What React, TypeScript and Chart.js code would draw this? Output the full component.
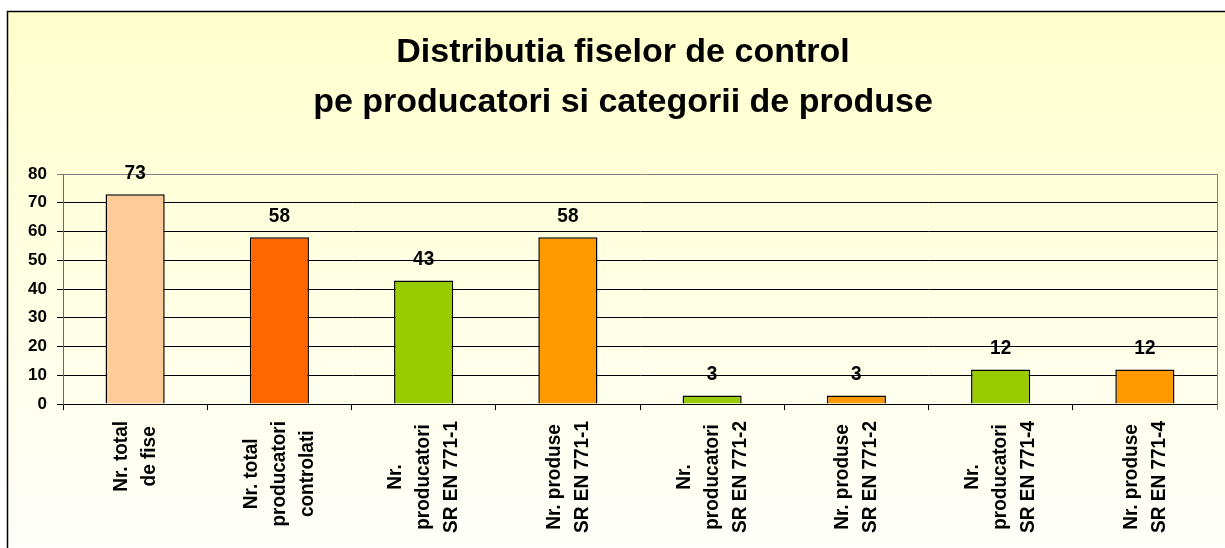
import React, { useEffect, useRef } from 'react';
import { Chart, registerables } from 'chart.js';

Chart.register(...registerables);

const TITLE_LINES = ['Distributia fiselor de control', 'pe producatori si categorii de produse'];
const CATEGORIES = [
  ['Nr. total', 'de fise'],
  ['Nr. total', 'producatori', 'controlati'],
  ['Nr.', 'producatori', 'SR EN 771-1'],
  ['Nr. produse', 'SR EN 771-1'],
  ['Nr.', 'producatori', 'SR EN 771-2'],
  ['Nr. produse', 'SR EN 771-2'],
  ['Nr.', 'producatori', 'SR EN 771-4'],
  ['Nr. produse', 'SR EN 771-4'],
];
const VALUES = [73, 58, 43, 58, 3, 3, 12, 12];
const BAR_COLORS = ['#FFCC99', '#FF6600', '#99CC00', '#FF9900', '#99CC00', '#FF9900', '#99CC00', '#FF9900'];
const Y_MIN = 0;
const Y_MAX = 80;
const Y_STEP = 10;

const FONT = '"Liberation Sans", Arial, Helvetica, sans-serif';
const W = 1246;
const H = 548;

const backgroundPlugin = {
  id: 'bgFrame',
  beforeDraw(chart: any) {
    const ctx = chart.ctx;
    ctx.save();
    ctx.fillStyle = '#FFFFFF';
    ctx.fillRect(0, 0, chart.width, chart.height);
    const g = ctx.createLinearGradient(0, 11, 0, 560);
    g.addColorStop(0, '#FFFFCC');
    g.addColorStop(1, '#FFFFFC');
    ctx.fillStyle = g;
    ctx.fillRect(7, 11, chart.width, chart.height);
    ctx.strokeStyle = '#000000';
    ctx.lineWidth = 1.5;
    ctx.strokeRect(7.5, 11.5, chart.width + 20, chart.height + 20);
    ctx.restore();
  },
  beforeDatasetsDraw(chart: any) {
    const { ctx, chartArea } = chart;
    ctx.save();
    ctx.strokeStyle = '#808080';
    ctx.lineWidth = 1;
    ctx.beginPath();
    ctx.moveTo(Math.round(chartArea.right) + 0.5, chartArea.top);
    ctx.lineTo(Math.round(chartArea.right) + 0.5, chartArea.bottom + 6);
    ctx.stroke();
    ctx.restore();
  },
};

const valueLabelPlugin = {
  id: 'valueLabels',
  afterDatasetsDraw(chart: any) {
    const ctx = chart.ctx;
    const meta = chart.getDatasetMeta(0);
    const data = chart.data.datasets[0].data;
    ctx.save();
    ctx.font = `bold 19px ${FONT}`;
    ctx.fillStyle = '#000000';
    ctx.textAlign = 'center';
    ctx.textBaseline = 'alphabetic';
    meta.data.forEach((el: any, i: number) => {
      ctx.save();
      ctx.translate(el.x, el.y - 15.5);
      ctx.scale(1, 1.1);
      ctx.fillText(String(data[i]), 0, 0);
      ctx.restore();
    });
    ctx.restore();
  },
};

const xLabelPlugin = {
  id: 'xLabels',
  afterDraw(chart: any) {
    const ctx = chart.ctx;
    const xs = chart.scales.x;
    const labels = chart.data.labels;
    ctx.save();
    ctx.font = `bold 19px ${FONT}`;
    ctx.fillStyle = '#000000';
    ctx.textAlign = 'center';
    ctx.textBaseline = 'middle';
    labels.forEach((lab: any, i: number) => {
      const lines: string[] = Array.isArray(lab) ? lab : [lab];
      const x = xs.getPixelForValue(i);
      const maxW = Math.max(...lines.map((l) => ctx.measureText(l).width));
      const cy = xs.top + 17 + maxW / 2;
      lines.forEach((l, j) => {
        ctx.save();
        ctx.translate(x + (j - (lines.length - 1) / 2) * 28, cy);
        ctx.rotate(-Math.PI / 2);
        ctx.scale(1, 1.1);
        ctx.fillText(l, 0, 0);
        ctx.restore();
      });
    });
    ctx.restore();
  },
};

export default function App() {
  const ref = useRef<HTMLCanvasElement | null>(null);

  useEffect(() => {
    if (!ref.current) return;
    const chart = new Chart(ref.current, {
      type: 'bar',
      data: {
        labels: CATEGORIES,
        datasets: [
          {
            data: VALUES,
            backgroundColor: BAR_COLORS,
            borderColor: '#000000',
            borderWidth: 1.5,
            categoryPercentage: 1,
            barPercentage: 0.41,
          },
        ],
      },
      options: {
        responsive: false,
        animation: false,
        devicePixelRatio: 1,
        layout: { padding: 0 },
        plugins: {
          legend: { display: false },
          tooltip: { enabled: false },
          title: {
            display: true,
            text: TITLE_LINES,
            color: '#000000',
            font: { family: FONT, size: 34, weight: 'bold', lineHeight: 50 / 34 },
            padding: { top: 28, bottom: 46 },
          },
        },
        scales: {
          x: {
            grid: {
              display: true,
              drawOnChartArea: false,
              drawTicks: true,
              tickLength: 6,
              color: '#000000',
              offset: true,
            },
            border: { display: true, color: '#000000', width: 1 },
            ticks: { display: false },
            afterFit: (s: any) => {
              s.height = 144;
            },
          },
          y: {
            min: Y_MIN,
            max: Y_MAX,
            ticks: {
              stepSize: Y_STEP,
              color: '#000000',
              padding: 10,
              font: { family: FONT, size: 17, weight: 'bold' },
            },
            grid: {
              color: (c: any) => (c.tick && c.tick.value === Y_MAX ? '#808080' : '#000000'),
              tickLength: 6,
              lineWidth: 1,
            },
            border: { display: true, color: '#666666', width: 1 },
            afterFit: (s: any) => {
              s.width = 63;
            },
          },
          yr: {
            type: 'linear',
            position: 'right',
            display: true,
            grid: { display: false, drawTicks: false },
            border: { display: false },
            ticks: { display: false },
            afterFit: (s: any) => {
              s.width = W - 1217;
            },
          },
        },
      },
      plugins: [backgroundPlugin, valueLabelPlugin, xLabelPlugin],
    } as any);
    return () => chart.destroy();
  }, []);

  return (
    <div style={{ position: 'fixed', left: 0, top: 0, width: 1225, height: 548, overflow: 'hidden' }}>
      <canvas ref={ref} width={W} height={H} style={{ display: 'block', width: W, height: H }} />
    </div>
  );
}
